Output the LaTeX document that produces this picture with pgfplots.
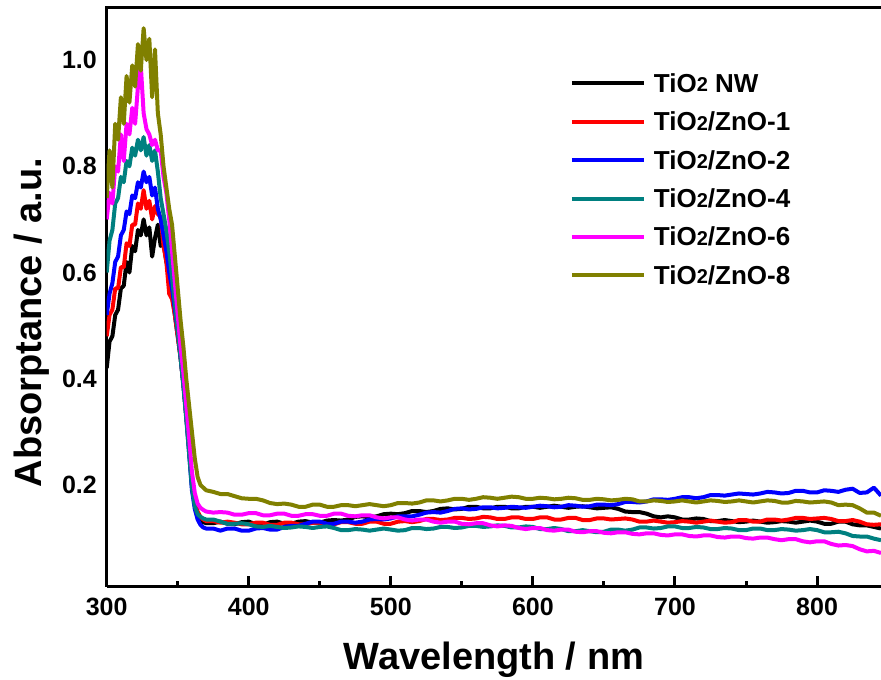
\documentclass[border=0pt]{standalone}
\usepackage{fontspec}
\setmainfont{Liberation Sans}
\usepackage{pgfplots}
\usepackage{pgfplotstable}
\pgfplotsset{compat=1.18}
\definecolor{olivec}{RGB}{128,128,0}
\definecolor{tealc}{RGB}{0,128,128}
\definecolor{magc}{RGB}{255,0,255}
\newcommand{\two}{\raisebox{0.4pt}{\fontsize{20}{24}\selectfont 2}}

% x  TiO2-NW  ZnO-1  ZnO-2  ZnO-4  ZnO-6  ZnO-8
\pgfplotstableread{
x k r b t m o
300 0.42 0.48 0.52 0.60 0.70 0.74
302 0.47 0.52 0.56 0.66 0.75 0.83
304 0.48 0.53 0.58 0.68 0.73 0.76
306 0.52 0.57 0.62 0.73 0.80 0.88
308 0.53 0.57 0.63 0.74 0.79 0.85
310 0.57 0.61 0.67 0.78 0.86 0.93
312 0.575 0.61 0.68 0.77 0.81 0.88
314 0.62 0.655 0.715 0.81 0.88 0.97
316 0.60 0.65 0.71 0.80 0.86 0.92
318 0.65 0.69 0.745 0.835 0.91 0.99
320 0.64 0.69 0.74 0.82 0.88 0.95
322 0.68 0.73 0.77 0.85 0.95 1.03
324 0.67 0.72 0.76 0.83 0.99 0.98
326 0.70 0.755 0.79 0.855 0.90 1.06
328 0.67 0.72 0.77 0.82 0.87 1.00
330 0.685 0.735 0.78 0.84 0.86 1.04
332 0.63 0.70 0.745 0.81 0.84 0.93
334 0.665 0.725 0.76 0.83 0.85 1.02
336 0.69 0.71 0.72 0.79 0.83 0.90
338 0.65 0.705 0.70 0.74 0.83 0.86
340 0.655 0.65 0.67 0.71 0.78 0.80
342 0.62 0.62 0.64 0.68 0.75 0.76
344 0.60 0.56 0.60 0.64 0.70 0.72
346 0.56 0.55 0.57 0.59 0.64 0.69
348 0.52 0.52 0.53 0.54 0.58 0.63
350 0.48 0.48 0.49 0.49 0.52 0.57
352 0.44 0.44 0.44 0.44 0.46 0.51
354 0.39 0.39 0.39 0.385 0.41 0.46
356 0.33 0.33 0.33 0.325 0.35 0.40
358 0.27 0.27 0.26 0.26 0.29 0.35
360 0.20 0.205 0.19 0.195 0.225 0.30
362 0.165 0.17 0.155 0.16 0.185 0.25
364 0.145 0.15 0.135 0.145 0.165 0.215
366 0.135 0.14 0.125 0.14 0.157 0.20
368 0.13 0.135 0.12 0.137 0.153 0.195
370 0.128 0.132 0.118 0.135 0.15 0.19
375 0.128 0.132 0.118 0.135 0.148 0.187
380 0.131 0.129 0.114 0.131 0.149 0.183
385 0.127 0.131 0.118 0.127 0.148 0.183
390 0.126 0.129 0.118 0.127 0.144 0.179
395 0.130 0.126 0.114 0.128 0.144 0.175
400 0.131 0.126 0.114 0.126 0.147 0.174
405 0.126 0.129 0.118 0.122 0.147 0.174
410 0.125 0.129 0.119 0.121 0.143 0.171
415 0.130 0.125 0.116 0.123 0.143 0.166
420 0.131 0.125 0.116 0.121 0.146 0.164
425 0.127 0.129 0.121 0.119 0.146 0.165
430 0.127 0.129 0.123 0.120 0.142 0.163
435 0.131 0.126 0.123 0.122 0.142 0.159
440 0.132 0.126 0.127 0.121 0.145 0.159
445 0.129 0.129 0.131 0.119 0.145 0.163
450 0.129 0.129 0.131 0.121 0.142 0.163
455 0.133 0.126 0.127 0.122 0.142 0.159
460 0.134 0.126 0.127 0.119 0.146 0.159
465 0.133 0.130 0.131 0.115 0.146 0.162
470 0.135 0.130 0.131 0.115 0.142 0.162
475 0.140 0.127 0.129 0.117 0.141 0.160
480 0.141 0.127 0.131 0.116 0.143 0.162
485 0.139 0.131 0.135 0.114 0.143 0.164
490 0.141 0.131 0.136 0.116 0.139 0.162
495 0.145 0.127 0.135 0.118 0.137 0.160
500 0.146 0.127 0.137 0.116 0.139 0.162
505 0.145 0.131 0.141 0.114 0.139 0.166
510 0.147 0.132 0.141 0.115 0.135 0.166
515 0.151 0.130 0.141 0.119 0.133 0.165
520 0.151 0.132 0.144 0.119 0.135 0.167
525 0.149 0.136 0.148 0.117 0.135 0.171
530 0.151 0.136 0.149 0.118 0.131 0.171
535 0.155 0.134 0.148 0.121 0.129 0.169
540 0.156 0.135 0.151 0.121 0.131 0.171
545 0.154 0.138 0.155 0.119 0.131 0.174
550 0.155 0.138 0.156 0.120 0.127 0.174
555 0.159 0.136 0.154 0.123 0.126 0.172
560 0.159 0.137 0.155 0.123 0.128 0.174
565 0.156 0.140 0.158 0.121 0.128 0.177
570 0.156 0.139 0.158 0.122 0.124 0.176
575 0.159 0.136 0.156 0.124 0.122 0.174
580 0.159 0.136 0.157 0.123 0.124 0.176
585 0.156 0.139 0.159 0.120 0.123 0.178
590 0.156 0.139 0.158 0.120 0.119 0.177
595 0.159 0.136 0.157 0.122 0.117 0.174
600 0.159 0.136 0.159 0.121 0.119 0.174
605 0.157 0.139 0.161 0.117 0.119 0.176
610 0.159 0.139 0.160 0.117 0.115 0.175
615 0.161 0.135 0.158 0.119 0.114 0.173
620 0.159 0.135 0.159 0.117 0.116 0.174
625 0.157 0.138 0.162 0.113 0.116 0.176
630 0.159 0.138 0.161 0.113 0.112 0.175
635 0.160 0.134 0.159 0.115 0.111 0.172
640 0.158 0.134 0.160 0.113 0.113 0.172
645 0.156 0.137 0.163 0.111 0.113 0.174
650 0.157 0.137 0.163 0.112 0.110 0.173
655 0.158 0.135 0.162 0.116 0.109 0.171
660 0.155 0.136 0.164 0.116 0.111 0.172
665 0.150 0.137 0.168 0.114 0.111 0.174
670 0.149 0.135 0.168 0.116 0.108 0.173
675 0.149 0.131 0.167 0.120 0.107 0.169
680 0.146 0.131 0.169 0.120 0.109 0.169
685 0.141 0.133 0.173 0.118 0.109 0.171
690 0.139 0.131 0.173 0.119 0.106 0.170
695 0.141 0.129 0.172 0.122 0.105 0.168
700 0.139 0.130 0.174 0.122 0.107 0.169
705 0.135 0.132 0.177 0.119 0.107 0.171
710 0.135 0.131 0.177 0.119 0.104 0.169
715 0.137 0.129 0.175 0.121 0.103 0.167
720 0.136 0.131 0.177 0.120 0.105 0.169
725 0.132 0.133 0.181 0.117 0.105 0.171
730 0.132 0.131 0.181 0.117 0.102 0.170
735 0.134 0.129 0.180 0.119 0.101 0.168
740 0.132 0.130 0.182 0.118 0.103 0.169
745 0.130 0.134 0.184 0.115 0.103 0.171
750 0.131 0.134 0.183 0.115 0.100 0.169
755 0.133 0.131 0.182 0.118 0.099 0.167
760 0.131 0.131 0.184 0.118 0.101 0.169
765 0.129 0.135 0.187 0.115 0.101 0.171
770 0.130 0.135 0.186 0.115 0.098 0.170
775 0.132 0.133 0.184 0.117 0.096 0.167
780 0.131 0.135 0.185 0.116 0.098 0.167
785 0.129 0.138 0.189 0.114 0.098 0.170
790 0.131 0.138 0.189 0.115 0.094 0.169
795 0.133 0.136 0.186 0.117 0.092 0.167
800 0.131 0.137 0.186 0.115 0.094 0.168
805 0.127 0.138 0.190 0.111 0.094 0.169
810 0.127 0.136 0.189 0.111 0.089 0.167
815 0.131 0.132 0.187 0.112 0.086 0.162
820 0.131 0.132 0.191 0.109 0.087 0.163
825 0.126 0.134 0.193 0.104 0.085 0.162
830 0.124 0.131 0.185 0.103 0.079 0.156
835 0.124 0.126 0.186 0.103 0.075 0.148
840 0.121 0.125 0.195 0.099 0.076 0.148
845 0.118 0.126 0.180 0.096 0.072 0.142
}\spectra

\begin{document}
\begin{tikzpicture}
\begin{axis}[
    scale only axis,
    width=774.3pt, height=578.7pt,
    xmin=300, xmax=845,
    ymin=0.0085, ymax=1.098,
    axis lines*=left,
    axis line style={-, line width=3pt},
    tick align=inside,
    xtick={300,400,500,600,700,800},
    minor x tick num=1,
    ytick={0.2,0.4,0.6,0.8,1.0},
    yticklabel style={/pgf/number format/fixed, /pgf/number format/fixed zerofill, /pgf/number format/precision=1, xshift=-6.4pt},
    xticklabel style={yshift=-8pt},
    /pgf/number format/assume math mode=true,
    tick label style={font=\fontsize{25}{30}\selectfont\bfseries},
    x tick style={line width=3pt, black},
    y tick style={draw=none},
    major tick length=11pt,
    minor tick length=5.5pt,
    xlabel={Wavelength / nm},
    ylabel={Absorptance / a.u.},
    label style={font=\fontsize{38}{44}\selectfont\bfseries},
    xlabel style={at={(axis description cs:0.5,-0.1427)}, anchor=base},
    ylabel style={at={(axis description cs:-0.0838,0.4565)}, anchor=base},
    every axis plot/.append style={line width=4pt, line join=round},
    legend image code/.code={\draw[#1, line width=4pt] (0pt,0pt) -- (72pt,0pt);},
    legend cell align=left,
    legend style={draw=none, fill=none, inner sep=0pt, outer sep=0pt,
        at={(axis description cs:0.5983,0.903)}, anchor=north west,
        row sep=0pt, column sep=8pt,
        font=\fontsize{26}{30}\selectfont\bfseries,
        nodes={inner xsep=0pt, inner ysep=0pt, text height=28.2pt, text depth=10.2pt}},
]
\addplot[black] table[x=x, y=k] {\spectra};
\addlegendentry{TiO\two\ NW}
\addplot[red] table[x=x, y=r] {\spectra};
\addlegendentry{TiO\two/ZnO-1}
\addplot[blue] table[x=x, y=b] {\spectra};
\addlegendentry{TiO\two/ZnO-2}
\addplot[tealc] table[x=x, y=t] {\spectra};
\addlegendentry{TiO\two/ZnO-4}
\addplot[magc] table[x=x, y=m] {\spectra};
\addlegendentry{TiO\two/ZnO-6}
\addplot[olivec] table[x=x, y=o] {\spectra};
\addlegendentry{TiO\two/ZnO-8}
\end{axis}
\draw[line width=3pt] (-1.5pt,578.7pt) -- (774.3pt,578.7pt);
\pgfresetboundingbox
\path[use as bounding box] (-106.7pt,-93.3pt) rectangle (774.3pt,586.7pt);
\end{tikzpicture}
\end{document}
